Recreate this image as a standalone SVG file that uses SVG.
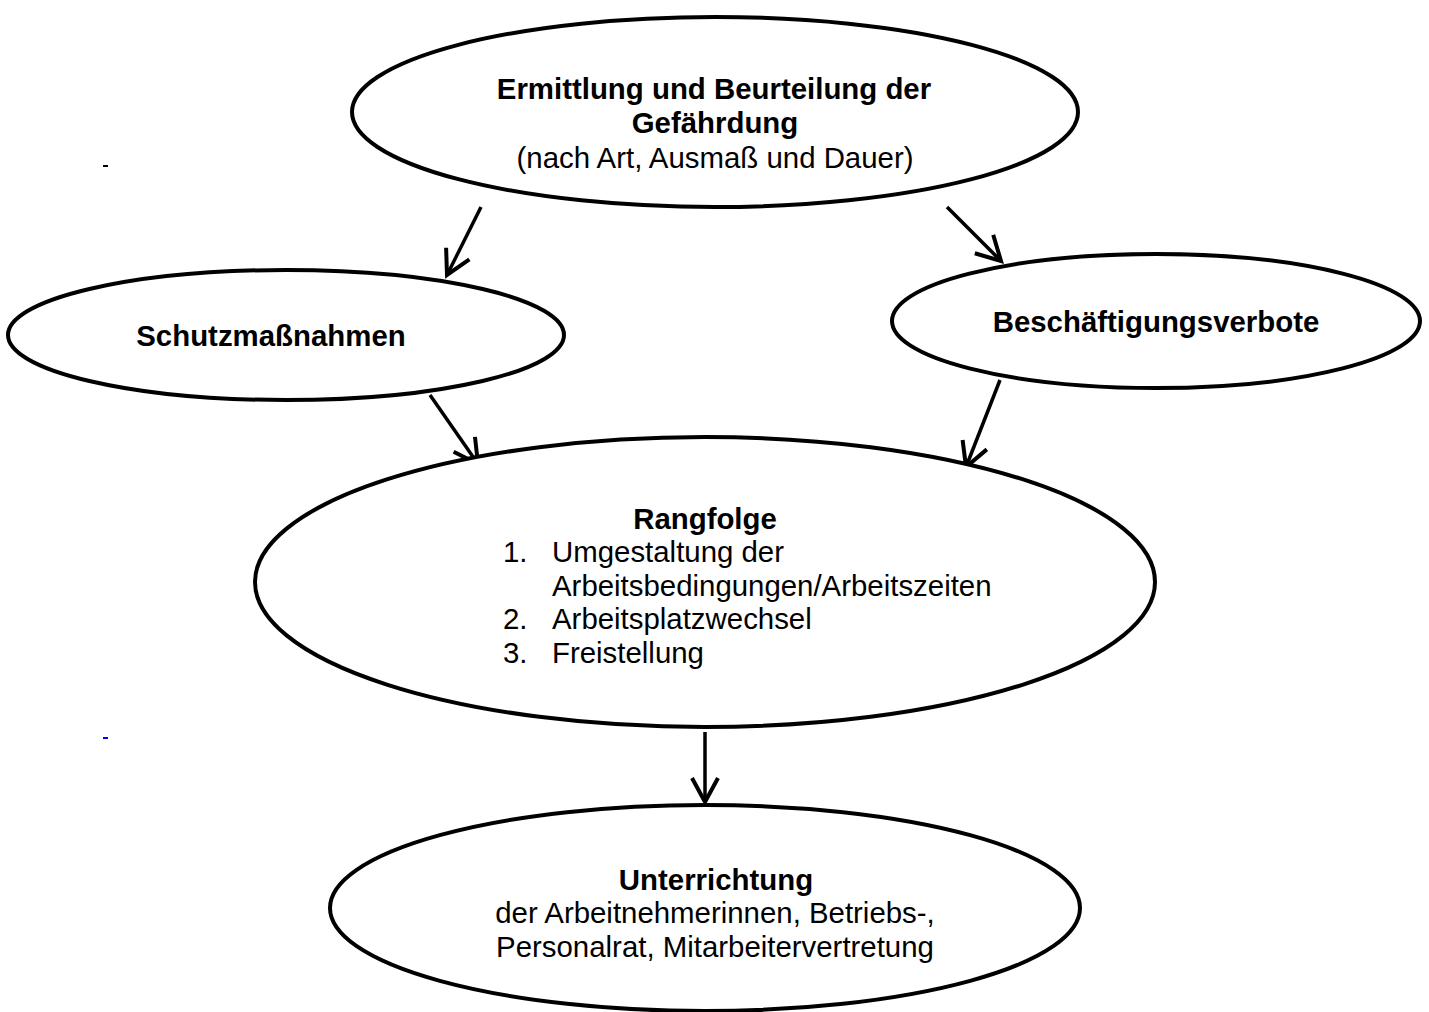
<svg xmlns="http://www.w3.org/2000/svg" width="1429" height="1012" viewBox="0 0 1429 1012">
<style>
.n{fill:#fff;stroke:#000;stroke-width:4}
.t{font-family:"Liberation Sans",Arial,sans-serif;font-size:29.4px;fill:#000}
.m{text-anchor:middle}
.b{font-weight:bold}
.c{stroke:#000;stroke-width:3.5;fill:none}
</style>
<defs>
<marker id="a2" markerWidth="32" markerHeight="32" refX="28" refY="16" orient="auto" markerUnits="userSpaceOnUse" viewBox="0 0 32 32">
<path d="M4,3 L28,16 L4,29" fill="none" stroke="#000" stroke-width="4"/>
</marker>
</defs>
<rect width="1429" height="1012" fill="#fff"/>
<rect x="103" y="165" width="5" height="2" fill="#000"/>
<rect x="103" y="737" width="5" height="2" fill="#00f"/>
<g id="connectors">
<line class="c" x1="481" y1="207" x2="447" y2="275" marker-end="url(#a2)"/>
<line class="c" x1="947" y1="207" x2="1001" y2="261" marker-end="url(#a2)"/>
<line class="c" x1="430" y1="395" x2="478" y2="464" marker-end="url(#a2)"/>
<line class="c" x1="1000" y1="380" x2="966" y2="467" marker-end="url(#a2)"/>
<line class="c" x1="705" y1="732" x2="705" y2="802" marker-end="url(#a2)"/>
</g>
<g id="n1">
<ellipse class="n" cx="715" cy="112" rx="363" ry="95"/>
<text class="t b m" x="714" y="99">Ermittlung und Beurteilung der</text>
<text class="t b m" x="715" y="133">Gefährdung</text>
<text class="t m" x="715" y="168">(nach Art, Ausmaß und Dauer)</text>
</g>
<g id="n2">
<ellipse class="n" cx="286" cy="335" rx="278" ry="65"/>
<text class="t b m" x="271" y="346">Schutzmaßnahmen</text>
</g>
<g id="n3">
<ellipse class="n" cx="1156" cy="321" rx="264" ry="67"/>
<text class="t b m" x="1156" y="332">Beschäftigungsverbote</text>
</g>
<g id="n4">
<ellipse class="n" cx="705" cy="582" rx="450" ry="145"/>
<text class="t b m" x="705" y="529">Rangfolge</text>
<text class="t" x="503" y="562">1.</text>
<text class="t" x="552" y="562">Umgestaltung der</text>
<text class="t" x="552" y="596">Arbeitsbedingungen/Arbeitszeiten</text>
<text class="t" x="503" y="629">2.</text>
<text class="t" x="552" y="629">Arbeitsplatzwechsel</text>
<text class="t" x="503" y="663">3.</text>
<text class="t" x="552" y="663">Freistellung</text>
</g>
<g id="n5">
<ellipse class="n" cx="705" cy="908" rx="375" ry="103"/>
<text class="t b m" x="716" y="890">Unterrichtung</text>
<text class="t m" x="715" y="923">der Arbeitnehmerinnen, Betriebs-,</text>
<text class="t m" x="715" y="957">Personalrat, Mitarbeitervertretung</text>
</g>
</svg>
